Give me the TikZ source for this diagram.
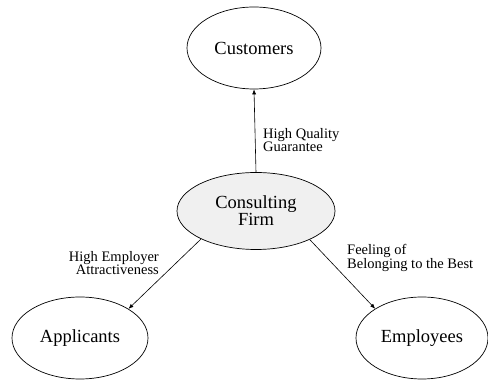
\documentclass[tikz,border=0pt]{standalone}
\usepackage{fontspec}
\setmainfont{Liberation Serif}
\usetikzlibrary{shapes.geometric,arrows.meta}

\tikzset{
  party/.style={draw,ellipse,line width=0.7pt,inner sep=0pt,
    minimum width=134pt,minimum height=82pt,align=center,
    font=\fontsize{18.5}{17}\selectfont},
  firmbox/.style={party,fill=gray!12,minimum width=158pt,minimum height=77pt},
  flow/.style={line width=0.6pt,-{Latex[length=5pt,width=4pt]}},
  flowtext/.style={font=\fontsize{14.5}{13.5}\selectfont,inner sep=0pt}
}

\begin{document}
\begin{tikzpicture}[x=1pt,y=1pt]
\useasboundingbox (0,0) rectangle (488,380);
% the four parties
\node[party] (cust) at (254,332) {Customers};
\node[firmbox] (firm) at (256,169) {Consulting\\Firm};
\node[party,minimum width=136pt] (appl) at (80,42) {Applicants};
\node[party,minimum width=132pt] (empl) at (422,42) {Employees};
% what the firm offers
\draw[flow] (firm.north) -- (cust.south);
\draw[flow] (firm.207) -- (appl.31);
\draw[flow] (firm.332) -- (empl.148);
\node[flowtext,anchor=west,align=left] (quality) at (263,240) {High Quality\\Guarantee};
\node[flowtext,anchor=east,align=right] (attract) at (159,117) {High Employer\\Attractiveness};
\node[flowtext,anchor=west,align=left] (belong) at (347,122) {Feeling of\\Belonging to the Best};
\end{tikzpicture}
\end{document}
